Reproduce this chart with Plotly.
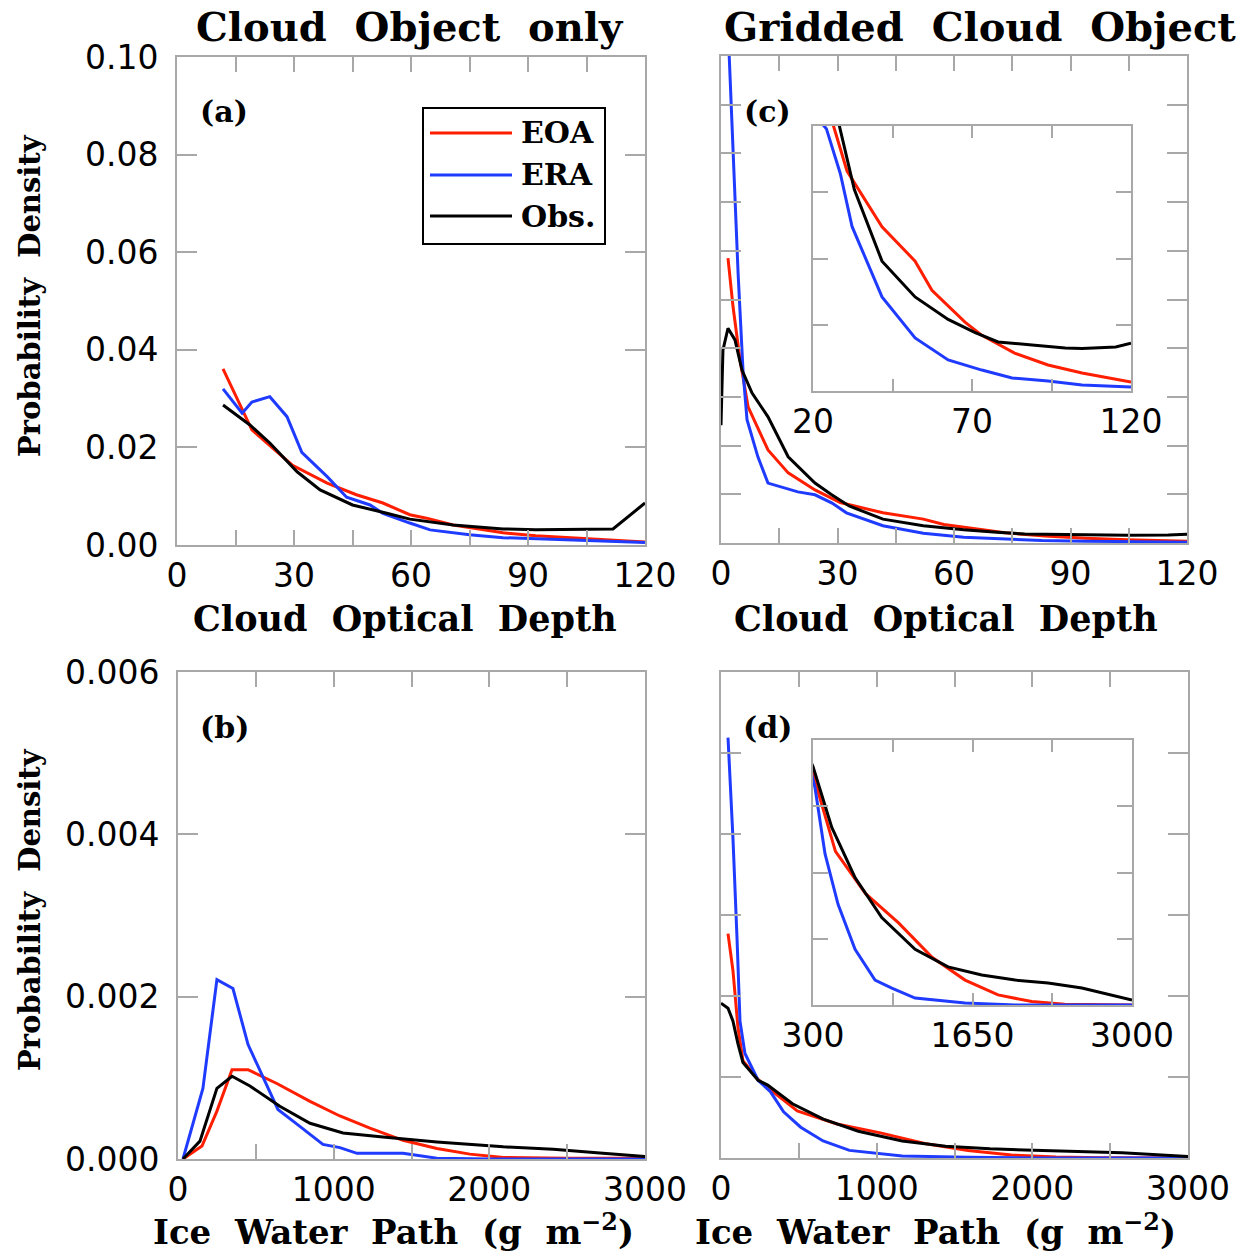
import plotly.graph_objects as go

# ---------------- data ----------------
series_names = ["EOA", "ERA", "Obs."]
series_colors = ["#ff1e00", "#1f3bff", "#000000"]

# (a) Cloud Object only: cloud optical depth PDF
cod_a_eoa_x = [11.8, 19.2, 29.5, 38.5, 46, 52.8, 59.7, 64, 70.8, 83.6, 92, 105, 120]
cod_a_eoa_y = [0.0361, 0.0236, 0.0164, 0.0127, 0.0103, 0.0086, 0.0062, 0.0055, 0.0041, 0.0025, 0.0019, 0.0013, 0.0006]
cod_a_era_x = [11.8, 16.7, 19.2, 23.8, 28.2, 32, 38.5, 43.5, 49.5, 52.8, 59.7, 64.9, 75, 83.6, 120]
cod_a_era_y = [0.032, 0.027, 0.0293, 0.0304, 0.0263, 0.019, 0.014, 0.0098, 0.0082, 0.0065, 0.0045, 0.0031, 0.0021, 0.0015, 0.0005]
cod_a_obs_x = [11.8, 18.7, 23.8, 30.8, 36.7, 45, 53.8, 59.7, 70.8, 83.6, 92, 111.8, 120]
cod_a_obs_y = [0.0287, 0.0246, 0.0209, 0.015, 0.0113, 0.0082, 0.0065, 0.0053, 0.0041, 0.0033, 0.0031, 0.0033, 0.0086]

# (b) Cloud Object only: ice water path PDF
iwp_b_eoa_x = [32, 154, 250, 347, 450, 635, 848, 1040, 1233, 1445, 1663, 1875, 2090, 2500, 3000]
iwp_b_eoa_y = [0, 0.00016, 0.00059, 0.0011, 0.0011, 0.00093, 0.00071, 0.00053, 0.00038, 0.00023, 0.00013, 0.00006, 0.00002, 0.00001, 0.00001]
iwp_b_era_x = [32, 160, 250, 353, 450, 527, 642, 764, 931, 1040, 1150, 1445, 1663, 2000, 3000]
iwp_b_era_y = [0, 0.00087, 0.00221, 0.0021, 0.00141, 0.00108, 0.00061, 0.00043, 0.00018, 0.00014, 0.00007, 0.00007, 0.00001, 0, 0]
iwp_b_obs_x = [32, 141, 250, 347, 462, 654, 848, 1060, 1316, 1663, 2090, 2410, 2730, 3000]
iwp_b_obs_y = [0, 0.00022, 0.00087, 0.00102, 0.0009, 0.00065, 0.00044, 0.00032, 0.00027, 0.00021, 0.00015, 0.00012, 0.00007, 0.00003]

# (c) Gridded Cloud Object: cloud optical depth PDF
cod_c_eoa_x = [1.8, 3.1, 4.9, 7, 12.1, 17.3, 24.2, 30.7, 41.7, 52.1, 57.4, 67.8, 73.1, 83.4, 93.9, 104.6, 120]
cod_c_eoa_y = [0.0585, 0.0485, 0.0376, 0.0279, 0.0191, 0.0144, 0.0109, 0.0083, 0.0062, 0.0049, 0.0038, 0.0026, 0.0021, 0.00143, 0.00098, 0.00068, 0.00034]
cod_c_era_x = [1.5, 3.1, 4.4, 5.7, 6.7, 9.5, 12.1, 19.8, 24.2, 28.6, 32.3, 41.7, 52.1, 62.5, 73.1, 82.6, 93.9, 104.6, 120]
cod_c_era_y = [0.112, 0.079, 0.0554, 0.0349, 0.0253, 0.0177, 0.0123, 0.0105, 0.0099, 0.0082, 0.0062, 0.00355, 0.0020, 0.00117, 0.00079, 0.00049, 0.00038, 0.00023, 0.00015]
cod_c_obs_x = [0, 0.5, 1.8, 3.6, 5.4, 8, 12.1, 17.3, 24.2, 28.3, 33, 41.7, 52.1, 62.5, 71, 78.2, 88.9, 99.3, 104.6, 115.2, 120]
cod_c_obs_y = [0.0242, 0.0396, 0.0441, 0.0417, 0.0355, 0.0308, 0.0259, 0.0177, 0.0123, 0.0100, 0.0076, 0.0049, 0.00355, 0.0027, 0.0022, 0.00185, 0.00174, 0.00162, 0.0016, 0.00166, 0.0018]

# (d) Gridded Cloud Object: ice water path PDF
iwp_d_eoa_x = [45, 77, 109, 141, 238, 300, 490, 745, 1024, 1308, 1587, 1866, 2151, 2430, 3000]
iwp_d_eoa_y = [0.00277, 0.00231, 0.00161, 0.0012, 0.00097, 0.00087, 0.00058, 0.00042, 0.00031, 0.00018, 0.000094, 0.000038, 0.000013, 0.000003, 0]
iwp_d_era_x = [45, 77, 103, 122, 154, 238, 317, 402, 512, 656, 825, 967, 1164, 1587, 2011, 3000]
iwp_d_era_y = [0.00519, 0.00394, 0.00271, 0.00169, 0.00129, 0.00096, 0.00082, 0.00057, 0.00038, 0.00021, 0.000094, 0.000064, 0.000026, 0.000008, 0, 0]
iwp_d_obs_x = [0, 45, 77, 109, 141, 238, 300, 459, 657, 882, 1164, 1443, 1728, 2011, 2290, 2576, 3000]
iwp_d_obs_y = [0.00191, 0.00185, 0.00169, 0.00141, 0.00118, 0.00096, 0.0009, 0.00067, 0.00048, 0.00033, 0.00021, 0.000144, 0.000113, 0.000094, 0.000083, 0.000064, 0.000019]

# tick values (labelled) and unlabelled intermediate ticks
cod_ticks = [0, 30, 60, 90, 120]
cod_minor = [15, 45, 75, 105]
iwp_ticks = [0, 1000, 2000, 3000]
iwp_minor = [500, 1500, 2500]
cod_inset_ticks = [20, 70, 120]
cod_inset_minor = [45, 95]
iwp_inset_ticks = [300, 1650, 3000]
iwp_inset_minor = [975, 2325]
pdf_a_ticks = [0, 0.02, 0.04, 0.06, 0.08, 0.10]
pdf_c_ticks = [0, 0.01, 0.02, 0.03, 0.04, 0.05, 0.06, 0.07, 0.08, 0.09, 0.10]
pdf_b_ticks = [0, 0.002, 0.004, 0.006]
pdf_d_ticks = [0, 0.001, 0.002, 0.003, 0.004, 0.005, 0.006]
pdf_c_inset_ticks = [0, 0.0025, 0.005, 0.0075, 0.01]
pdf_d_inset_ticks = [0, 0.00025, 0.0005, 0.00075, 0.001]

W, H = 1253, 1251
SERIF = "DejaVu Serif"
SANS = "DejaVu Sans"
GREY = "#a8a8a8"

fig = go.Figure()

panels = [
    ("x", "y", [(cod_a_eoa_x, cod_a_eoa_y), (cod_a_era_x, cod_a_era_y), (cod_a_obs_x, cod_a_obs_y)]),
    ("x2", "y2", [(cod_c_eoa_x, cod_c_eoa_y), (cod_c_era_x, cod_c_era_y), (cod_c_obs_x, cod_c_obs_y)]),
    ("x3", "y3", [(iwp_b_eoa_x, iwp_b_eoa_y), (iwp_b_era_x, iwp_b_era_y), (iwp_b_obs_x, iwp_b_obs_y)]),
    ("x4", "y4", [(iwp_d_eoa_x, iwp_d_eoa_y), (iwp_d_era_x, iwp_d_era_y), (iwp_d_obs_x, iwp_d_obs_y)]),
    ("x5", "y5", [(cod_c_eoa_x, cod_c_eoa_y), (cod_c_era_x, cod_c_era_y), (cod_c_obs_x, cod_c_obs_y)]),
    ("x6", "y6", [(iwp_d_eoa_x, iwp_d_eoa_y), (iwp_d_era_x, iwp_d_era_y), (iwp_d_obs_x, iwp_d_obs_y)]),
]
for xa, ya, curves in panels:
    for (xs, ys), name, col in zip(curves, series_names, series_colors):
        fig.add_trace(go.Scatter(x=xs, y=ys, mode="lines", name=name, xaxis=xa, yaxis=ya,
                                 line=dict(color=col, width=3), showlegend=False,
                                 hoverinfo="skip"))


def px_x(a, b):
    return [a / W, b / W]


def px_y(top, bottom):
    return [1 - bottom / H, 1 - top / H]


def axis(domain, rng, tv, anchor, tlen, minor=None, fmt=None, show=True, standoff=0, fs=33):
    ax = dict(domain=domain, range=rng, anchor=anchor, tickmode="array", tickvals=tv,
              showticklabels=show, ticks="inside", ticklen=tlen, tickwidth=2, tickcolor=GREY,
              showline=True, linecolor=GREY, linewidth=2, mirror="ticks", showgrid=False,
              zeroline=False, automargin=False, tickfont=dict(family=SANS, size=fs, color="black"),
              ticklabelstandoff=standoff, fixedrange=True)
    if fmt:
        ax["tickformat"] = fmt
    if minor:
        ax["minor"] = dict(tickmode="array", tickvals=minor, ticks="inside", ticklen=tlen,
                           tickwidth=2, tickcolor=GREY, showgrid=False)
    return ax


layout = dict(
    width=W, height=H, margin=dict(l=0, r=0, t=0, b=0, autoexpand=False),
    paper_bgcolor="white", plot_bgcolor="white", showlegend=False,
    xaxis=axis(px_x(177, 645), [0, 120], cod_ticks, "y", 15, cod_minor),
    yaxis=axis(px_y(57, 545), [0, 0.10], pdf_a_ticks, "x", 20, fmt=".2f", standoff=10),
    xaxis2=axis(px_x(721, 1187), [0, 120], cod_ticks, "y2", 15, cod_minor),
    yaxis2=axis(px_y(56, 543), [0, 0.10], pdf_c_ticks, "x2", 20, show=False),
    xaxis3=axis(px_x(178, 645), [0, 3000], iwp_ticks, "y3", 15, iwp_minor),
    yaxis3=axis(px_y(672, 1159), [0, 0.006], pdf_b_ticks, "x3", 20, fmt=".3f", standoff=10),
    xaxis4=axis(px_x(721, 1188), [0, 3000], iwp_ticks, "y4", 15, iwp_minor),
    yaxis4=axis(px_y(672, 1158), [0, 0.006], pdf_d_ticks, "x4", 20, show=False),
    xaxis5=axis(px_x(813, 1131), [20, 120], cod_inset_ticks, "y5", 12, cod_inset_minor),
    yaxis5=axis(px_y(126, 391), [0, 0.01], pdf_c_inset_ticks, "x5", 15, show=False),
    xaxis6=axis(px_x(813, 1132), [300, 3000], iwp_inset_ticks, "y6", 12, iwp_inset_minor),
    yaxis6=axis(px_y(740, 1005), [0, 0.001], pdf_d_inset_ticks, "x6", 15, show=False),
)
fig.update_layout(**layout)

annotations = []


def text(x, y, s, size, angle=0, bold=True, family=SERIF, xanchor="center"):
    annotations.append(dict(x=x / W, y=1 - y / H, xref="paper", yref="paper", text=s,
                            showarrow=False, xanchor=xanchor, yanchor="middle", textangle=angle,
                            font=dict(family=family, size=size, color="black",
                                      weight="bold" if bold else "normal")))


# column titles
text(410, 27, "Cloud  Object  only", 40)
text(980, 27, "Gridded  Cloud  Object", 40)
# x-axis titles
text(405, 618, "Cloud  Optical  Depth", 35)
text(946, 618, "Cloud  Optical  Depth", 35)
text(393, 1230, "Ice  Water  Path  (g  m<sup>−2</sup>)", 34)
text(935, 1230, "Ice  Water  Path  (g  m<sup>−2</sup>)", 34)
# y-axis titles
text(30, 296, "Probability  Density", 29, angle=-90)
text(30, 910, "Probability  Density", 29, angle=-90)
# panel labels
text(224, 112, "(a)", 30)
text(224, 727, "(b)", 30)
text(767, 112, "(c)", 30)
text(767, 727, "(d)", 30)

# legend box in panel (a)
shapes = [dict(type="rect", xref="paper", yref="paper", x0=423 / W, x1=605 / W,
               y0=1 - 244 / H, y1=1 - 108 / H, line=dict(color="black", width=2),
               fillcolor="white", layer="above")]
legend_rows = [133, 175, 216]
for name, col, ry in zip(series_names, series_colors, legend_rows):
    shapes.append(dict(type="line", xref="paper", yref="paper", x0=430 / W, x1=512 / W,
                       y0=1 - ry / H, y1=1 - ry / H, line=dict(color=col, width=3), layer="above"))
    text(519, ry, name, 30, xanchor="left")

fig.update_layout(annotations=annotations, shapes=shapes)
fig.write_html("out.html")
